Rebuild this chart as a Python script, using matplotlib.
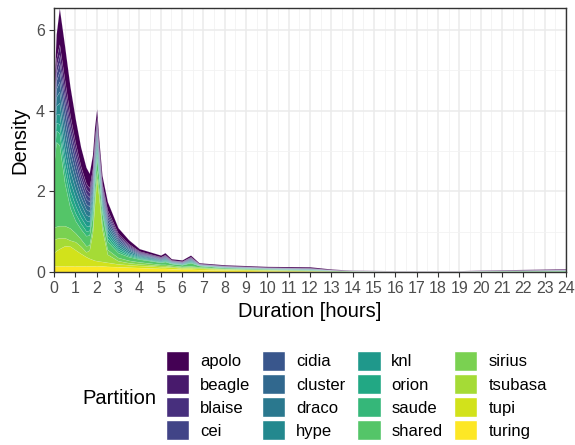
# Stacked job-duration densities per partition (ggplot-like look)
import numpy as np
import matplotlib
matplotlib.use("Agg")
import matplotlib.pyplot as plt
from matplotlib.patches import Patch

plt.rcParams['font.family'] = ['Liberation Sans', 'DejaVu Sans']

# duration grid (hours)
hours = [0, 0.1, 0.25, 0.5, 0.75, 1, 1.25, 1.5, 1.65, 1.8, 1.9, 2.0, 2.1, 2.25, 2.5, 3,
         3.5, 4, 4.5, 5, 5.2, 5.5, 6, 6.4, 6.8, 8, 10, 12, 13, 14, 16, 19, 21, 24]

partitions = ['apolo', 'beagle', 'blaise', 'cei', 'cidia', 'cluster', 'draco', 'hype',
              'knl', 'orion', 'saude', 'shared', 'sirius', 'tsubasa', 'tupi', 'turing']

# density (each layer thickness)
apolo = [0.3, 0.6, 0.9, 0.85, 0.72, 0.6, 0.48, 0.4, 0.36, 0.34, 0.3, 0.22, 0.2, 0.2, 0.21, 0.14,
         0.1, 0.06, 0.05, 0.04, 0.05, 0.03, 0.03, 0.04, 0.02, 0.02, 0.02, 0.025, 0.015, 0.005, 0.003, 0.003, 0.01, 0.015]
beagle = [0.15, 0.2, 0.25, 0.25, 0.22, 0.18, 0.15, 0.13, 0.12, 0.12, 0.12, 0.1, 0.07, 0.07, 0.08, 0.05,
          0.03, 0.02, 0.02, 0.014, 0.017, 0.009, 0.009, 0.015, 0.005, 0.005, 0.004, 0.005, 0.002, 0.0005, 0.0002, 0.0002, 0.0015, 0.003]
blaise = [0.15, 0.17, 0.2, 0.22, 0.2, 0.17, 0.14, 0.12, 0.11, 0.11, 0.11, 0.09, 0.07, 0.07, 0.07, 0.04,
          0.03, 0.02, 0.015, 0.014, 0.017, 0.009, 0.009, 0.015, 0.005, 0.005, 0.004, 0.005, 0.002, 0.0005, 0.0002, 0.0002, 0.0015, 0.003]
cei = [0.15, 0.18, 0.22, 0.25, 0.22, 0.18, 0.15, 0.13, 0.11, 0.11, 0.11, 0.09, 0.07, 0.07, 0.07, 0.04,
       0.03, 0.02, 0.015, 0.014, 0.017, 0.009, 0.009, 0.015, 0.005, 0.005, 0.004, 0.005, 0.002, 0.0005, 0.0002, 0.0002, 0.0015, 0.003]
cidia = [0.15, 0.2, 0.25, 0.27, 0.24, 0.2, 0.16, 0.13, 0.12, 0.12, 0.11, 0.1, 0.07, 0.07, 0.08, 0.05,
         0.03, 0.02, 0.015, 0.014, 0.017, 0.009, 0.009, 0.015, 0.005, 0.005, 0.004, 0.005, 0.002, 0.0005, 0.0002, 0.0002, 0.0015, 0.003]
cluster = [0.15, 0.2, 0.25, 0.27, 0.24, 0.2, 0.16, 0.13, 0.12, 0.12, 0.11, 0.1, 0.08, 0.08, 0.08, 0.05,
           0.03, 0.02, 0.015, 0.014, 0.017, 0.009, 0.009, 0.015, 0.005, 0.005, 0.004, 0.005, 0.002, 0.0005, 0.0002, 0.0002, 0.0015, 0.003]
draco = [0.2, 0.22, 0.28, 0.28, 0.25, 0.21, 0.17, 0.14, 0.13, 0.12, 0.12, 0.1, 0.08, 0.08, 0.08, 0.05,
         0.04, 0.02, 0.02, 0.014, 0.017, 0.009, 0.009, 0.015, 0.005, 0.005, 0.004, 0.005, 0.002, 0.0005, 0.0002, 0.0002, 0.0015, 0.003]
hype = [0.2, 0.22, 0.28, 0.28, 0.25, 0.21, 0.17, 0.14, 0.13, 0.13, 0.12, 0.11, 0.08, 0.08, 0.08, 0.05,
        0.04, 0.02, 0.02, 0.014, 0.017, 0.009, 0.009, 0.015, 0.005, 0.005, 0.004, 0.005, 0.002, 0.0005, 0.0002, 0.0002, 0.0015, 0.003]
knl = [0.15, 0.2, 0.25, 0.25, 0.24, 0.2, 0.16, 0.13, 0.11, 0.11, 0.11, 0.1, 0.08, 0.08, 0.08, 0.05,
       0.03, 0.02, 0.02, 0.014, 0.017, 0.009, 0.009, 0.015, 0.005, 0.005, 0.004, 0.005, 0.002, 0.0005, 0.0002, 0.0002, 0.0015, 0.003]
orion = [0.15, 0.2, 0.22, 0.23, 0.22, 0.19, 0.15, 0.13, 0.11, 0.11, 0.11, 0.1, 0.08, 0.07, 0.08, 0.05,
         0.03, 0.02, 0.015, 0.014, 0.017, 0.009, 0.009, 0.015, 0.005, 0.005, 0.004, 0.005, 0.002, 0.0005, 0.0002, 0.0002, 0.0015, 0.003]
saude = [0.15, 0.28, 0.3, 0.25, 0.21, 0.19, 0.14, 0.12, 0.11, 0.1, 0.11, 0.11, 0.07, 0.07, 0.08, 0.05,
         0.03, 0.02, 0.015, 0.014, 0.017, 0.009, 0.009, 0.015, 0.005, 0.005, 0.004, 0.005, 0.002, 0.0005, 0.0002, 0.0002, 0.0015, 0.003]
shared = [1.6, 2.1, 2.0, 1.05, 0.5, 0.3, 0.25, 0.25, 0.25, 0.3, 0.3, 0.3, 0.3, 0.25, 0.2, 0.12,
          0.09, 0.07, 0.06, 0.05, 0.07, 0.04, 0.04, 0.08, 0.03, 0.02, 0.015, 0.01, 0.01, 0.01, 0.01, 0.01, 0.012, 0.015]
sirius = [0.3, 0.3, 0.3, 0.3, 0.3, 0.22, 0.18, 0.15, 0.13, 0.15, 0.18, 0.2, 0.18, 0.15, 0.12, 0.08,
          0.06, 0.05, 0.04, 0.03, 0.03, 0.03, 0.02, 0.02, 0.02, 0.01, 0.005, 0.005, 0.005, 0.005, 0.005, 0.005, 0.005, 0.005]
tsubasa = [0.32, 0.3, 0.27, 0.2, 0.15, 0.2, 0.18, 0.12, 0.2, 0.65, 1.4, 2.05, 1.6, 0.8, 0.2, 0.08,
           0.05, 0.04, 0.03, 0.03, 0.03, 0.02, 0.02, 0.03, 0.02, 0.01, 0.01, 0.01, 0.005, 0.005, 0.005, 0.005, 0.005, 0.005]
tupi = [0.33, 0.38, 0.43, 0.5, 0.49, 0.4, 0.31, 0.23, 0.19, 0.16, 0.14, 0.13, 0.12, 0.11, 0.1, 0.07,
        0.06, 0.05, 0.05, 0.04, 0.04, 0.04, 0.03, 0.03, 0.03, 0.02, 0.02, 0.01, 0.01, 0.005, 0.005, 0.005, 0.005, 0.005]
turing = [0.15, 0.15, 0.15, 0.15, 0.15, 0.15, 0.15, 0.15, 0.15, 0.15, 0.15, 0.15, 0.15, 0.15, 0.14, 0.13,
          0.12, 0.11, 0.1, 0.09, 0.09, 0.08, 0.07, 0.07, 0.06, 0.05, 0.03, 0.02, 0.01, 0.01, 0.005, 0.005, 0.005, 0.005]

series = [apolo, beagle, blaise, cei, cidia, cluster, draco, hype,
          knl, orion, saude, shared, sirius, tsubasa, tupi, turing]
colors = [plt.cm.viridis(v) for v in np.linspace(0, 1, len(partitions))]

fig = plt.figure(figsize=(5.75, 4.45), dpi=100)
ax = fig.add_axes([54 / 575, 1 - 272 / 445, 512 / 575, 264 / 445])

# ggplot stacks the first level on top, so draw from turing upward
stack_order = list(range(len(partitions)))[::-1]
ax.stackplot(hours, [series[i] for i in stack_order],
             colors=[colors[i] for i in stack_order],
             edgecolor=(1, 1, 1, 0.18), linewidth=0.35, zorder=3)

total = np.sum(np.array(series), axis=0)
ax.set_xlim(0, 24)
ax.set_ylim(0, total.max())

# theme_bw style
ax.set_xticks(range(0, 25))
ax.set_xticks(np.arange(0.5, 24, 1), minor=True)
ax.set_yticks([0, 2, 4, 6])
ax.set_yticks([1, 3, 5], minor=True)
ax.grid(which='major', color='#EBEBEB', linewidth=1.1, zorder=0)
ax.grid(which='minor', color='#F2F2F2', linewidth=0.6, zorder=0)
ax.set_axisbelow(True)
for s in ax.spines.values():
    s.set_color('#333333')
    s.set_linewidth(1.0)
    s.set_zorder(5)
ax.tick_params(which='major', length=3.5, width=0.8, color='#333333',
               labelsize=11.5, labelcolor='#4D4D4D', pad=3)
ax.tick_params(which='minor', length=0)

ax.set_xlabel('Duration [hours]', fontsize=14.5, labelpad=4)
ax.set_ylabel('Density', fontsize=14.5, labelpad=5)

handles = [Patch(facecolor=c, edgecolor='white', linewidth=1) for c in colors]
fig.legend(handles, partitions, ncol=4, loc='upper left',
           bbox_to_anchor=(166 / 575, 1 - 351 / 445), frameon=False,
           fontsize=12, handlelength=1.4, handleheight=1.45,
           handletextpad=0.65, columnspacing=0.7, labelspacing=0.2,
           borderaxespad=0, borderpad=0)
fig.text(82 / 575, 1 - 398 / 445, 'Partition', fontsize=14.5, va='center', ha='left')

fig.savefig('out.png', dpi=100)
